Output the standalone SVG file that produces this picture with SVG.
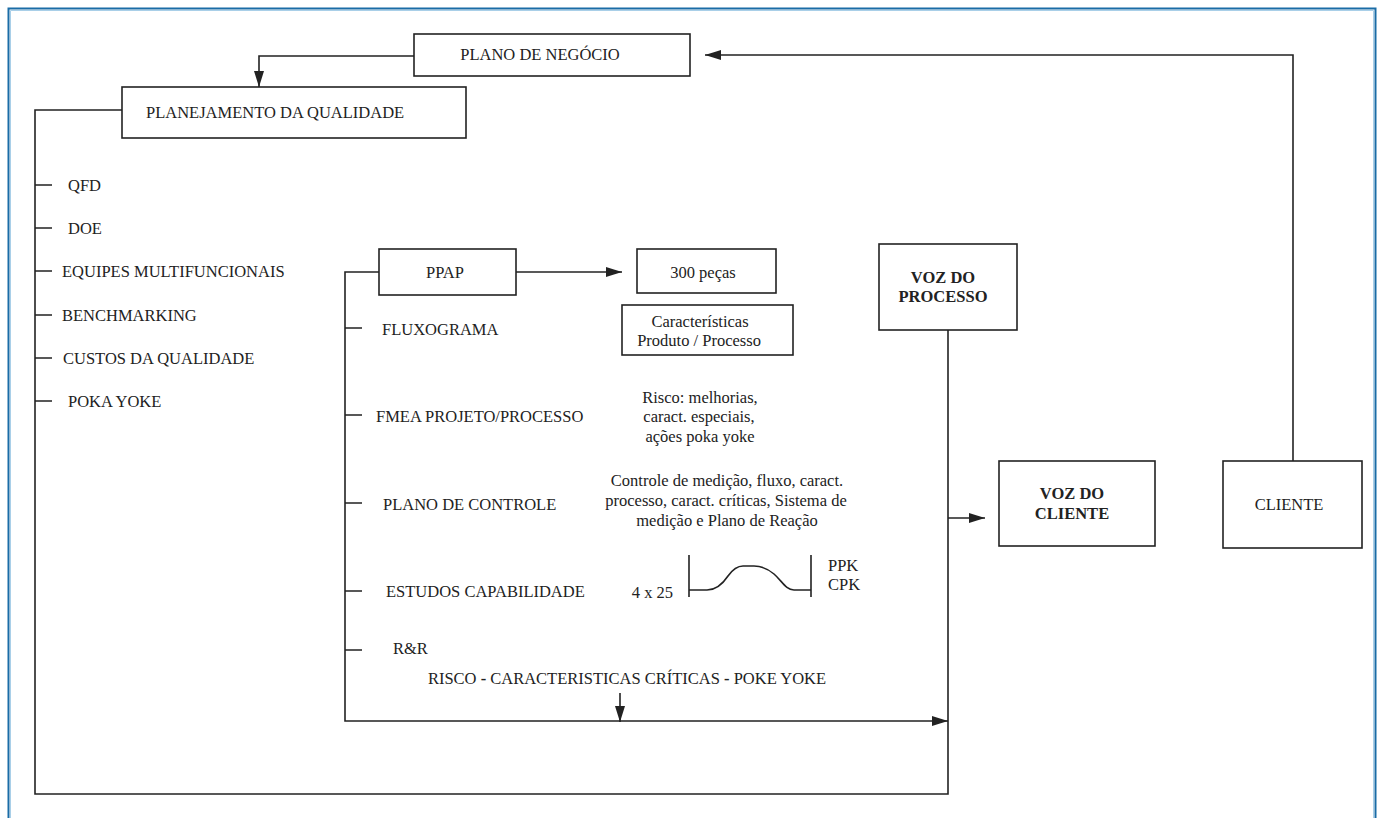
<svg xmlns="http://www.w3.org/2000/svg" width="1380" height="818" viewBox="0 0 1380 818">
<defs>
<style>
.box{fill:#fff;stroke:#222;stroke-width:1.6}
.ln{fill:none;stroke:#222;stroke-width:1.6}
.t{font-family:"Liberation Serif","Times New Roman",serif;font-size:16.5px;fill:#222}
.c{text-anchor:middle}
.b{font-weight:bold}
</style>
<marker id="ah" viewBox="0 0 16 10" refX="16" refY="5" markerWidth="16" markerHeight="10" markerUnits="userSpaceOnUse" orient="auto">
<path d="M0,0 L16,5 L0,10 Z" fill="#222"/>
</marker>
</defs>
<rect width="1380" height="818" fill="#fff"/>
<path d="M8.5,830 V8.5 H1375.5 V830" fill="none" stroke="#1a6ca6" stroke-width="2"/>
<path d="M10.5,830 V10.5 H1373.5 V830" fill="none" stroke="#a9cfe8" stroke-width="1"/>

<g id="connectors">
<path class="ln" d="M414,56 H259 V87" marker-end="url(#ah)"/>
<path class="ln" d="M1293,461 V55 H705" marker-end="url(#ah)"/>
<path class="ln" d="M122,110 H35 V794 H948 V330"/>
<path class="ln" d="M35,185 H52 M35,228 H52 M35,271 H52 M35,315 H52 M35,358 H52 M35,401 H52"/>
<path class="ln" d="M379,272 H345 V721 H948" marker-end="url(#ah)"/>
<path class="ln" d="M345,328 H362 M345,415 H362 M345,503 H362 M345,591 H362 M345,650 H362"/>
<path class="ln" d="M516,272 H622" marker-end="url(#ah)"/>
<path class="ln" d="M620,693 V722" marker-end="url(#ah)"/>
<path class="ln" d="M948,518 H985" marker-end="url(#ah)"/>
</g>

<g id="plano-negocio">
<rect class="box" x="414" y="34" width="276" height="42"/>
<text class="t" x="540" y="60" text-anchor="middle">PLANO DE NEGÓCIO</text>
</g>
<g id="planejamento">
<rect class="box" x="122" y="87" width="344" height="51"/>
<text class="t" x="146" y="118">PLANEJAMENTO DA QUALIDADE</text>
</g>
<g id="ferramentas">
<text class="t" x="68" y="191">QFD</text>
<text class="t" x="68" y="234">DOE</text>
<text class="t" x="62" y="277">EQUIPES MULTIFUNCIONAIS</text>
<text class="t" x="62" y="321">BENCHMARKING</text>
<text class="t" x="63" y="364">CUSTOS DA QUALIDADE</text>
<text class="t" x="68" y="407">POKA YOKE</text>
</g>
<g id="ppap">
<rect class="box" x="379" y="249" width="137" height="46"/>
<text class="t c" x="445" y="278">PPAP</text>
</g>
<g id="pecas">
<rect class="box" x="637" y="249" width="139" height="44"/>
<text class="t c" x="703" y="278">300 peças</text>
</g>
<g id="caracteristicas">
<rect class="box" x="622" y="305" width="171" height="50"/>
<text class="t c" x="700" y="327">Características</text>
<text class="t c" x="699" y="346">Produto / Processo</text>
</g>
<g id="ppap-itens">
<text class="t" x="382" y="335">FLUXOGRAMA</text>
<text class="t" x="376" y="422">FMEA PROJETO/PROCESSO</text>
<text class="t" x="383" y="510">PLANO DE CONTROLE</text>
<text class="t" x="386" y="597">ESTUDOS CAPABILIDADE</text>
<text class="t" x="393" y="654">R&amp;R</text>
</g>
<g id="risco">
<text class="t c" x="700" y="403">Risco: melhorias,</text>
<text class="t c" x="699" y="422">caract. especiais,</text>
<text class="t c" x="700" y="442">ações poka yoke</text>
</g>
<g id="controle">
<text class="t c" x="727" y="486">Controle de medição, fluxo, caract.</text>
<text class="t c" x="726" y="506">processo, caract. críticas, Sistema de</text>
<text class="t c" x="727" y="526">medição e Plano de Reação</text>
</g>
<g id="capabilidade">
<text class="t" x="673" y="598" text-anchor="end">4 x 25</text>
<path class="ln" d="M689,555 V597 M811,555 V597"/>
<path class="ln" stroke-width="1.4" d="M689,590 H707 C716,590 722,585 728,576 C733,569 737,566 743,566 H754 C762,566 768,569 774,574 C782,581 786,590 794,590 H811"/>
<text class="t" x="828" y="571">PPK</text>
<text class="t" x="828" y="590">CPK</text>
</g>
<g id="risco-linha">
<text class="t c" x="627" y="684">RISCO <tspan class="b">-</tspan> CARACTERISTICAS CRÍTICAS <tspan class="b">-</tspan> POKE YOKE</text>
</g>
<g id="voz-processo">
<rect class="box" x="879" y="244" width="138" height="86"/>
<text class="t c b" x="943" y="283">VOZ  DO</text>
<text class="t c b" x="943" y="302">PROCESSO</text>
</g>
<g id="voz-cliente">
<rect class="box" x="999" y="461" width="156" height="85"/>
<text class="t c b" x="1072" y="499">VOZ  DO</text>
<text class="t c b" x="1072" y="519">CLIENTE</text>
</g>
<g id="cliente">
<rect class="box" x="1223" y="461" width="139" height="87"/>
<text class="t c" x="1289" y="510">CLIENTE</text>
</g>
</svg>
